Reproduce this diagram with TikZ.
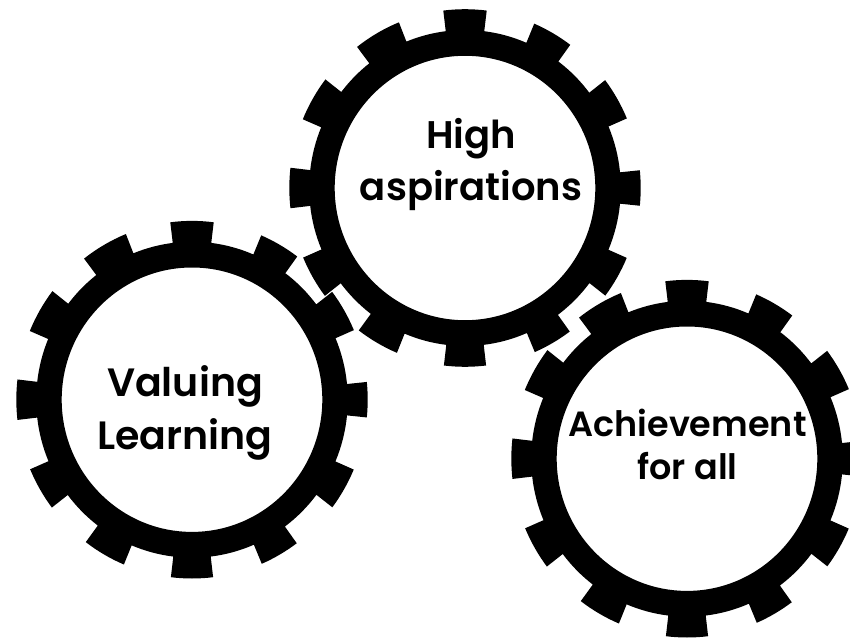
\documentclass[tikz,border=0pt]{standalone}
\usepackage{fontspec}
\setmainfont{Poppins}[BoldFont=Poppins SemiBold]
\newcommand{\gearring}[2]{%
  \fill[gearfill,even odd rule,shift={(#1,{638-#2})}]
    (0:130.3 and 132.2) arc[start angle=0,end angle=360,x radius=130.3,y radius=132.2] -- cycle
    (-5.7:175.7 and 178.8)
    \foreach \a/\h/\n/\m in {0/5.7/30/7.1,30/7.1/60/6.8,60/6.8/90/7.1,90/7.1/120/7.9,120/7.9/150/7.4,150/7.4/180/6.5,180/6.5/210/7.1,210/7.1/240/7.2,240/7.2/270/6.9,270/6.9/300/6.6,300/6.6/330/7.0,330/7.0/360/5.7}{
      arc[start angle=\a-\h,end angle=\a+\h,x radius=175.7,y radius=178.8]
      -- ({\a+\h}:155.8 and 158)
      arc[start angle=\a+\h,end angle=\n-\m,x radius=155.8,y radius=158]
      -- ({\n-\m}:175.7 and 178.8)
    } -- cycle;
}
\tikzset{
  gearfill/.style={fill=black},
  geartext/.style={align=center,font=\bfseries\fontsize{39.5}{53}\selectfont,text=black,inner sep=0pt}
}
\begin{document}
\begin{tikzpicture}[x=1pt,y=1pt]
\clip (0,0) rectangle (850,638);
\gearring{465}{188}
\gearring{192}{399.7}
\gearring{687}{458.7}
\node[geartext,font=\bfseries\fontsize{38.5}{52}\selectfont] (high) at (471,{638-164}) {High\\aspirations};
\node[geartext] (valuing) at (185,{638-412.5}) {Valuing\\Learning};
\node[geartext,font=\bfseries\fontsize{35}{43}\selectfont] (achieve) at (687.5,{638-444}) {Achievement\\for all};
\end{tikzpicture}
\end{document}
